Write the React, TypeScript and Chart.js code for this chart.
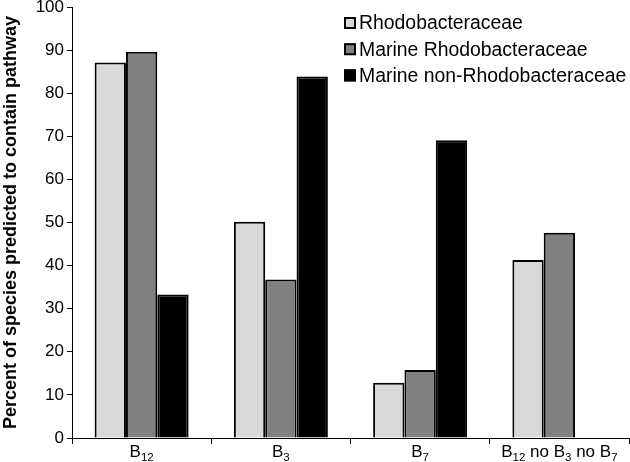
import React, { useEffect, useRef } from 'react';
import { Chart, registerables } from 'chart.js';

Chart.register(...registerables);

const categories = ['B₁₂', 'B₃', 'B₇', 'B₁₂ no B₃ no B₇'];
const seriesNames = ['Rhodobacteraceae', 'Marine Rhodobacteraceae', 'Marine non-Rhodobacteraceae'];
const rhodobacteraceae = [87.1, 50.2, 12.8, 41.3];
const marineRhodobacteraceae = [89.6, 36.8, 15.8, 47.6];
const marineNonRhodobacteraceae = [33.3, 83.9, 69.1, 0];
const seriesColors = ['#d9d9d9', '#808080', '#000000'];
const yTicks = [0, 10, 20, 30, 40, 50, 60, 70, 80, 90, 100];
const yTitle = 'Percent of species predicted to contain pathway';

const FONT = '"Liberation Sans", Arial, sans-serif';

function splitSub(label: string) {
  const segs: { text: string; sub: boolean }[] = [];
  for (const ch of label) {
    const code = ch.charCodeAt(0);
    const sub = code >= 0x2080 && code <= 0x2089;
    const c = sub ? String.fromCharCode(code - 0x2080 + 48) : ch;
    const last = segs[segs.length - 1];
    if (last && last.sub === sub) last.text += c;
    else segs.push({ text: c, sub });
  }
  return segs;
}

const xLabelPlugin = {
  id: 'xLabelPlugin',
  afterDraw(chart: any) {
    const ctx = chart.ctx;
    const xs = chart.scales.x;
    const base = `17px ${FONT}`;
    const small = `11.5px ${FONT}`;
    ctx.save();
    ctx.fillStyle = '#000';
    ctx.textBaseline = 'alphabetic';
    ctx.textAlign = 'left';
    categories.forEach((label, i) => {
      const segs = splitSub(label);
      let w = 0;
      segs.forEach((s) => {
        ctx.font = s.sub ? small : base;
        w += ctx.measureText(s.text).width;
      });
      let x = xs.getPixelForValue(i) - w / 2;
      const y = chart.chartArea.bottom + 19;
      segs.forEach((s) => {
        ctx.font = s.sub ? small : base;
        ctx.fillText(s.text, x, s.sub ? y + 4 : y);
        x += ctx.measureText(s.text).width;
      });
    });
    ctx.restore();
  },
};

const legendPlugin = {
  id: 'legendPlugin',
  afterDraw(chart: any) {
    const ctx = chart.ctx;
    const ca = chart.chartArea;
    ctx.save();
    ctx.font = `19.4px ${FONT}`;
    ctx.textBaseline = 'middle';
    ctx.textAlign = 'left';
    seriesNames.forEach((name, i) => {
      const cy = ca.top + 16 + i * 26.2;
      const bx = ca.left + 272;
      ctx.fillStyle = seriesColors[i];
      ctx.fillRect(bx, cy - 6, 12, 12);
      ctx.strokeStyle = '#000';
      ctx.lineWidth = 2;
      ctx.strokeRect(bx + 1, cy - 5, 10, 10);
      ctx.fillStyle = '#000';
      ctx.fillText(name, bx + 15, cy + 1);
    });
    ctx.restore();
  },
};

export default function App() {
  const ref = useRef<HTMLCanvasElement>(null);
  useEffect(() => {
    if (!ref.current) return;
    const data = [rhodobacteraceae, marineRhodobacteraceae, marineNonRhodobacteraceae];
    const chart = new Chart(ref.current, {
      type: 'bar',
      data: {
        labels: categories,
        datasets: seriesNames.map((name, i) => ({
          label: name,
          data: data[i],
          backgroundColor: seriesColors[i],
          borderColor: '#000',
          borderWidth: 2,
          borderSkipped: 'start',
          categoryPercentage: 0.675,
          barPercentage: 1,
        })),
      },
      options: {
        animation: false,
        responsive: false,
        devicePixelRatio: 1,
        layout: { padding: { top: 7, right: 1, left: 0, bottom: 0 } },
        plugins: { legend: { display: false }, tooltip: { enabled: false } },
        scales: {
          x: {
            grid: {
              display: true,
              drawOnChartArea: false,
              drawTicks: true,
              tickLength: 6,
              color: '#000',
              offset: true,
            },
            border: { color: '#000', width: 1 },
            ticks: { display: false },
            afterFit: (s: any) => {
              s.height = 24;
              s.paddingLeft = 0;
              s.paddingRight = 0;
            },
          },
          y: {
            min: 0,
            max: 100,
            afterBuildTicks: (s: any) => {
              s.ticks = yTicks.map((v) => ({ value: v }));
            },
            grid: {
              drawOnChartArea: false,
              drawTicks: true,
              tickLength: 5,
              color: '#000',
            },
            border: { color: '#000', width: 1 },
            ticks: {
              color: '#000',
              font: { family: FONT, size: 17 },
              padding: 3,
            },
            title: {
              display: true,
              text: yTitle,
              color: '#000',
              font: { family: FONT, size: 18, weight: 'bold' },
              padding: { top: 0, bottom: 2 },
            },
            afterFit: (s: any) => {
              s.width = 72;
              s.paddingTop = 0;
              s.paddingBottom = 0;
            },
          },
        },
      },
      plugins: [xLabelPlugin, legendPlugin],
    } as any);
    return () => chart.destroy();
  }, []);
  return (
    <div style={{ position: 'absolute', left: 0, top: 0, width: 630, height: 462, background: '#fff' }}>
      <canvas ref={ref} width={630} height={462} />
    </div>
  );
}
